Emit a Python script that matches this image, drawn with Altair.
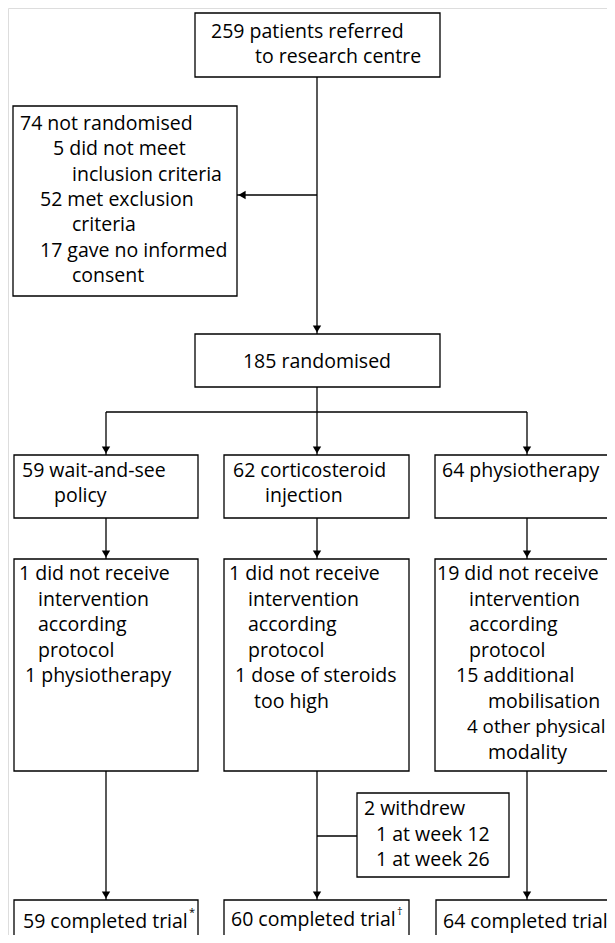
import altair as alt
import pandas as pd

# Boxes (pixel layout coordinates of the flow diagram)
box_x1 = [195, 13, 195, 14, 224, 435, 14, 224, 435, 357, 14, 224, 436]
box_x2 = [440, 237, 440, 198, 409, 640, 198, 409, 640, 509, 198, 409, 640]
box_y1 = [13, 106, 334, 455, 455, 455, 559, 559, 559, 793, 900, 900, 900]
box_y2 = [77, 296, 387, 518, 518, 518, 771, 771, 771, 877, 960, 960, 960]

# Connector segments
seg_x1 = [317, 237, 317, 106, 106, 317, 527, 106, 317, 527, 106, 317, 317, 527]
seg_x2 = [317, 317, 317, 527, 106, 317, 527, 106, 317, 527, 106, 317, 357, 527]
seg_y1 = [77, 195, 387, 412, 412, 412, 412, 518, 518, 518, 771, 771, 836, 771]
seg_y2 = [334, 195, 412, 412, 455, 455, 455, 559, 559, 559, 900, 900, 836, 900]

# Arrow heads (tip positions and directions)
arr_x = [317, 237, 106, 317, 527, 106, 317, 527, 106, 317, 527]
arr_y = [334, 195, 455, 455, 455, 559, 559, 559, 900, 900, 900]
arr_dir = ["down", "left", "down", "down", "down", "down", "down", "down", "down", "down", "down"]

# Text lines
txt = [
    "259 patients referred", "to research centre",
    "74 not randomised", "5 did not meet", "inclusion criteria", "52 met exclusion",
    "criteria", "17 gave no informed", "consent",
    "59 wait-and-see", "policy", "62 corticosteroid", "injection", "64 physiotherapy",
    "1 did not receive", "intervention", "according", "protocol", "1 physiotherapy",
    "1 did not receive", "intervention", "according", "protocol", "1 dose of steroids", "too high",
    "19 did not receive", "intervention", "according", "protocol", "15 additional",
    "mobilisation", "modality",
    "2 withdrew", "1 at week 12", "1 at week 26",
    "59 completed trial", "60 completed trial", "64 completed trial",
]
txt_x = [
    211, 255,
    20, 53, 72, 40, 72, 40, 72,
    22, 54, 233, 265, 442,
    19, 38, 38, 38, 25,
    229, 248, 248, 248, 235, 254,
    437, 469, 469, 469, 456, 488, 488,
    364, 376, 376,
    23, 231, 443,
]
txt_y = [
    32, 57,
    124, 149, 175, 200, 225, 251, 276,
    471, 496, 471, 496, 471,
    574, 600, 625, 651, 676,
    574, 600, 625, 651, 676, 702,
    574, 600, 625, 651, 676, 702, 753,
    809, 835, 860,
    922, 920, 922,
]
# line that runs to the right edge (set slightly tighter so it stays visible)
edge_txt = ["4 other physical"]
edge_x = [467]
edge_y = [727]

centre_txt = ["185 randomised"]
centre_x = [317]
centre_y = [362]

sup_txt = ["*", "†"]
sup_x = [189, 397]
sup_y = [913, 912]

boxes = pd.DataFrame({"x1": box_x1, "x2": box_x2, "y1": box_y1, "y2": box_y2})
segs = pd.DataFrame({"x1": seg_x1, "x2": seg_x2, "y1": seg_y1, "y2": seg_y2})
arrows = pd.DataFrame({"x": arr_x, "y": arr_y, "d": arr_dir})
arrows["cx"] = [x + (5 if d == "left" else 0) for x, d in zip(arrows.x, arrows.d)]
arrows["cy"] = [y - (5 if d == "down" else 0) for y, d in zip(arrows.y, arrows.d)]
texts = pd.DataFrame({"t": txt, "x": txt_x, "y": txt_y})
etexts = pd.DataFrame({"t": edge_txt, "x": edge_x, "y": edge_y})
ctexts = pd.DataFrame({"t": centre_txt, "x": centre_x, "y": centre_y})
stexts = pd.DataFrame({"t": sup_txt, "x": sup_x, "y": sup_y})

xs = alt.Scale(domain=[8, 607])
ys = alt.Scale(domain=[8, 935], reverse=True)
FONT = "Open Sans"
FS = 19.5


def enc(ch, xf="x:Q", yf="y:Q"):
    return ch.encode(x=alt.X(xf, scale=xs, axis=None), y=alt.Y(yf, scale=ys, axis=None))


rects = alt.Chart(boxes).mark_rect(fill="white", stroke="black", strokeWidth=1.3).encode(
    x=alt.X("x1:Q", scale=xs, axis=None), x2="x2:Q",
    y=alt.Y("y1:Q", scale=ys, axis=None), y2="y2:Q",
)
rules = alt.Chart(segs).mark_rule(color="black", strokeWidth=1.3).encode(
    x=alt.X("x1:Q", scale=xs, axis=None), x2="x2:Q",
    y=alt.Y("y1:Q", scale=ys, axis=None), y2="y2:Q",
)
down = enc(alt.Chart(arrows[arrows.d == "down"]).mark_point(
    shape="triangle-down", filled=True, color="black", size=70, opacity=1), "cx:Q", "cy:Q")
left = enc(alt.Chart(arrows[arrows.d == "left"]).mark_point(
    shape="triangle-left", filled=True, color="black", size=70, opacity=1), "cx:Q", "cy:Q")
labels = enc(alt.Chart(texts).mark_text(
    align="left", baseline="middle", font=FONT, fontSize=FS, color="black")).encode(text="t:N")
elabels = enc(alt.Chart(etexts).mark_text(
    align="left", baseline="middle", font=FONT, fontSize=18.8, color="black")).encode(text="t:N")
clabels = enc(alt.Chart(ctexts).mark_text(
    align="center", baseline="middle", font=FONT, fontSize=FS, color="black")).encode(text="t:N")
slabels = enc(alt.Chart(stexts).mark_text(
    align="left", baseline="middle", font=FONT, fontSize=11, color="black")).encode(text="t:N")

chart = alt.layer(rules, rects, down, left, labels, elabels, clabels, slabels).properties(
    width=599, height=927, padding=0, autosize=alt.AutoSizeParams(type="none")
).configure_view(stroke=None).configure(background="white")

chart.save("out.html", embed_options={"renderer": "svg", "actions": False})
